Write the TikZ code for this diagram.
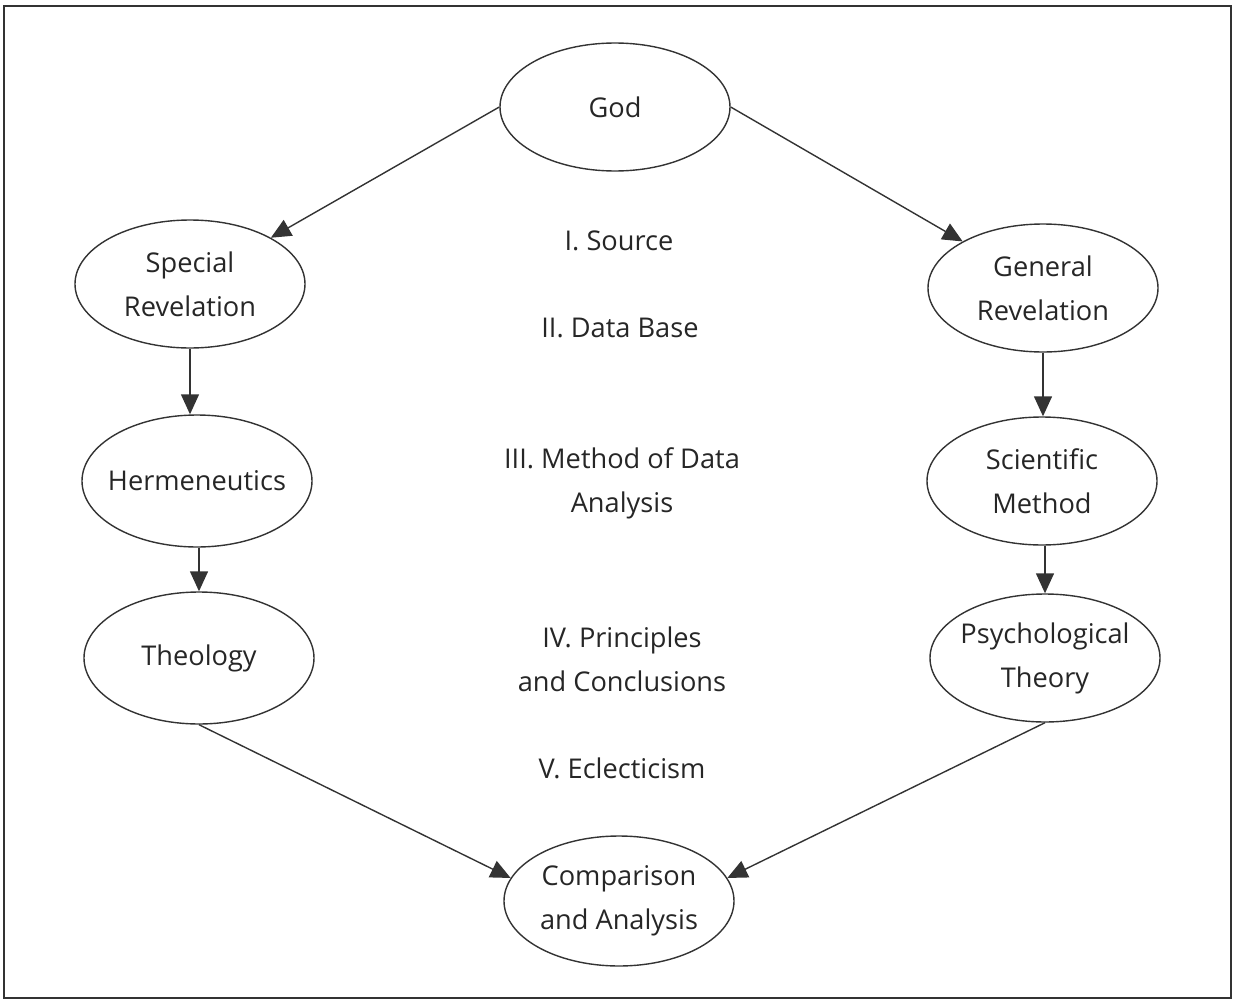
\documentclass[tikz,border=0pt]{standalone}
\usepackage{fontspec}
\setmainfont{Open Sans}
\usetikzlibrary{arrows.meta,shapes.geometric}
\begin{document}
\begin{tikzpicture}[x=0.5pt,y=-0.5pt,
  every node/.style={font=\fontsize{13.6}{22}\selectfont, text=black!85, align=center},
  oval/.style={ellipse, draw=black!80, line width=0.7pt, minimum width=115pt, minimum height=64pt, inner xsep=-14pt, inner ysep=0pt},
  lbl/.style={},
  arr/.style={draw=black!80, line width=0.7pt, -{Triangle[length=10pt,width=9pt]}}]
\useasboundingbox (0,0) rectangle (1238,1001);
\draw[line width=1.3pt, black!80] (4,6) rectangle (1231,998);
\node[oval] (god) at (615,107) {God};
\node[oval] (sr) at (190,284) {Special\\Revelation};
\node[oval] (gr) at (1043,288) {General\\Revelation};
\node[oval, minimum height=66pt] (herm) at (197,481) {Hermeneutics};
\node[oval] (sm) at (1042,481) {Scientific\\Method};
\node[oval, minimum height=66pt] (theo) at (199,658) {Theology};
\node[oval] (psy) at (1045,658) {Psychological\\Theory};
\node[oval, minimum height=65pt] (comp) at (619,901) {Comparison\\and Analysis};
\node[lbl] (l1) at (619,241) {I. Source};
\node[lbl] (l2) at (620,328) {II. Data Base};
\node[lbl] (l3) at (622,483) {III. Method of Data\\Analysis};
\node[lbl] (l4) at (622,659) {IV. Principles\\and Conclusions};
\node[lbl] (l5) at (622,768) {V. Eclecticism};
\draw[arr] (god.west) -- (sr);
\draw[arr] (god.east) -- (gr);
\draw[arr] (sr.south) -- (sr.south |- herm.north);
\draw[arr] (gr.south) -- (gr.south |- sm.north);
\draw[arr] (theo.north |- herm.south) -- (theo.north);
\draw[arr] (psy.north |- sm.south) -- (psy.north);
\draw[arr] (theo.south) -- (comp.168);
\draw[arr] (psy.south) -- (comp.12);
\end{tikzpicture}
\end{document}
